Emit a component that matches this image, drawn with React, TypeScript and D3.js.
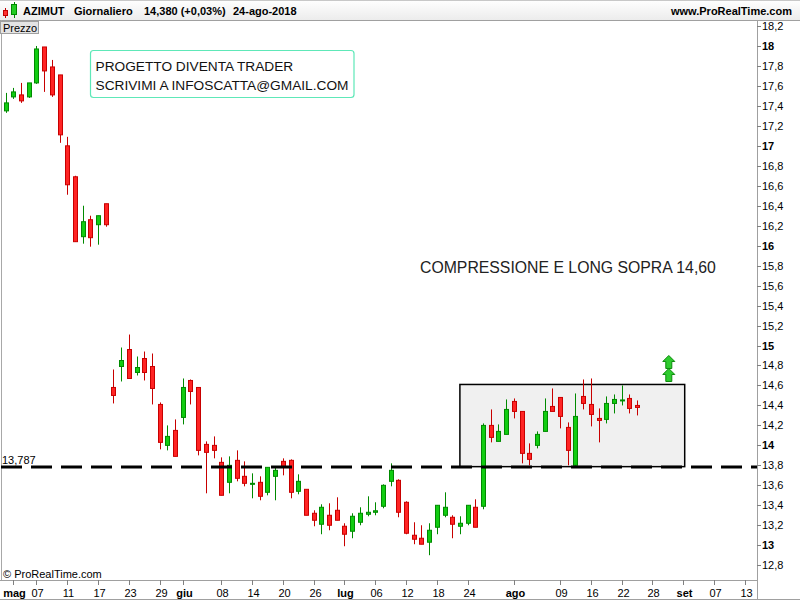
import React from "react";
import * as d3 from "d3";

// ---------- data ----------
const TITLE = "AZIMUT";
const PERIOD = "Giornaliero";
const LAST = "14,380 (+0,03%)";
const LAST_DATE = "24-ago-2018";
const HOLIDAYS = ["2018-05-01", "2018-08-15"];
const FIRST_DAY = "2018-04-30";
const AXIS_END = "2018-09-15";

const OPEN = [17.35, 17.49, 17.51, 17.49, 17.63, 17.99, 17.79, 17.71, 17.0, 16.69, 16.09, 16.26, 16.21, 16.42,
  14.58, 14.79, 14.96, 14.73, 14.87, 14.79, 14.41, 14.0, 14.15, 14.28, 14.65, 14.58, 14.01, 14.0, 13.83, 13.63,
  13.85, 13.69, 13.61, 13.63, 13.53, 13.69, 13.84, 13.85, 13.54, 13.56, 13.32, 13.21, 13.3, 13.35, 13.19, 13.14,
  13.23, 13.31, 13.33, 13.39, 13.64, 13.65, 13.43, 13.1, 13.07, 13.03, 13.18, 13.3, 13.28, 13.19, 13.22, 13.38,
  13.39, 14.2, 14.04, 14.11, 14.44, 14.34, 13.92, 14.0, 14.14, 14.39, 14.48, 14.18, 13.8, 14.49, 14.41, 14.27,
  14.26, 14.42, 14.445, 14.47, 14.4];
const HIGH = [17.53, 17.58, 17.63, 17.63, 18.0, 17.99, 17.86, 17.71, 17.09, 16.7, 16.4, 16.3, 16.3, 16.42,
  14.76, 14.98, 15.11, 14.89, 14.94, 14.92, 14.43, 14.2, 14.26, 14.67, 14.66, 14.58, 14.04, 14.09, 13.88, 13.89,
  13.95, 13.84, 13.72, 13.69, 13.78, 13.79, 13.87, 13.86, 13.71, 13.56, 13.35, 13.41, 13.42, 13.48, 13.22, 13.32,
  13.38, 13.49, 13.43, 13.61, 13.82, 13.66, 13.44, 13.23, 13.2, 13.22, 13.4, 13.53, 13.3, 13.29, 13.4, 13.46,
  14.22, 14.36, 14.21, 14.46, 14.47, 14.34, 14.02, 14.14, 14.47, 14.57, 14.48, 14.23, 14.52, 14.66, 14.67, 14.37,
  14.49, 14.51, 14.6, 14.51, 14.45];
const LOW = [17.33, 17.47, 17.43, 17.48, 17.62, 17.54, 17.49, 17.03, 16.51, 16.04, 16.02, 15.99, 16.01, 16.19,
  14.42, 14.64, 14.67, 14.7, 14.65, 14.41, 13.96, 13.95, 13.89, 14.21, 14.41, 13.9, 13.52, 13.87, 13.5, 13.52,
  13.64, 13.59, 13.47, 13.45, 13.5, 13.45, 13.7, 13.47, 13.51, 13.3, 13.19, 13.11, 13.15, 13.25, 12.99, 13.07,
  13.2, 13.29, 13.3, 13.37, 13.59, 13.28, 13.11, 13.01, 13.01, 12.9, 13.11, 13.28, 13.07, 13.11, 13.2, 13.18,
  13.36, 14.03, 14.04, 14.11, 14.27, 13.82, 13.8, 13.97, 14.14, 14.34, 14.17, 13.8, 13.78, 14.36, 14.19, 14.03,
  14.22, 14.32, 14.4, 14.32, 14.3];
const CLOSE = [17.43, 17.54, 17.45, 17.63, 17.97, 17.75, 17.51, 17.11, 16.61, 16.04, 16.24, 16.08, 16.3, 16.21,
  14.5, 14.85, 14.67, 14.78, 14.73, 14.57, 14.03, 14.09, 13.89, 14.58, 14.54, 13.95, 13.93, 13.95, 13.5, 13.8,
  13.67, 13.62, 13.62, 13.49, 13.78, 13.75, 13.79, 13.53, 13.64, 13.3, 13.25, 13.38, 13.2, 13.25, 13.11, 13.29,
  13.32, 13.33, 13.345, 13.6, 13.75, 13.33, 13.12, 13.06, 13.01, 13.15, 13.4, 13.38, 13.21, 13.22, 13.4, 13.18,
  14.2, 14.08, 14.14, 14.36, 14.34, 13.92, 13.86, 14.11, 14.34, 14.34, 14.29, 13.95, 14.29, 14.42, 14.31, 14.25,
  14.42, 14.46, 14.455, 14.37, 14.38];

const X_TICKS = [
  { date: "2018-05-02", label: "mag", bold: true },
  { date: "2018-05-07", label: "07", bold: false },
  { date: "2018-05-11", label: "11", bold: false },
  { date: "2018-05-17", label: "17", bold: false },
  { date: "2018-05-23", label: "23", bold: false },
  { date: "2018-05-29", label: "29", bold: false },
  { date: "2018-06-01", label: "giu", bold: true },
  { date: "2018-06-08", label: "08", bold: false },
  { date: "2018-06-14", label: "14", bold: false },
  { date: "2018-06-20", label: "20", bold: false },
  { date: "2018-06-26", label: "26", bold: false },
  { date: "2018-07-02", label: "lug", bold: true },
  { date: "2018-07-06", label: "06", bold: false },
  { date: "2018-07-12", label: "12", bold: false },
  { date: "2018-07-18", label: "18", bold: false },
  { date: "2018-07-24", label: "24", bold: false },
  { date: "2018-08-01", label: "ago", bold: true },
  { date: "2018-08-09", label: "09", bold: false },
  { date: "2018-08-16", label: "16", bold: false },
  { date: "2018-08-22", label: "22", bold: false },
  { date: "2018-08-28", label: "28", bold: false },
  { date: "2018-09-03", label: "set", bold: true },
  { date: "2018-09-07", label: "07", bold: false },
  { date: "2018-09-13", label: "13", bold: false },
];

const SUPPORT_LEVEL = 13.787;
const SUPPORT_LABEL = "13,787";
const BOX_DATES = ["2018-07-23", "2018-09-03"];
const BOX_PRICES = [13.787, 14.61];
const ARROW_DATE = "2018-08-30";
const ARROW_PRICE = 14.635;
const NOTE_LINES = ["PROGETTO DIVENTA TRADER", "SCRIVIMI A INFOSCATTA@GMAIL.COM"];
const COMMENT = "COMPRESSIONE E LONG SOPRA 14,60";

// ---------- layout ----------
const W = 800;
const H = 600;
const PLOT_L = 1;
const PLOT_R = 757;
const PLOT_T = 20;
const PLOT_B = 580;
const FONT = "'Liberation Sans', Arial, sans-serif";

const parse = d3.timeParse("%Y-%m-%d");
const fmt = d3.timeFormat("%Y-%m-%d");
const DAYS: string[] = d3.timeDay
  .range(parse(FIRST_DAY)!, parse(AXIS_END)!)
  .filter((d) => d.getDay() !== 0 && d.getDay() !== 6)
  .map((d) => fmt(d))
  .filter((s) => !HOLIDAYS.includes(s));

const STEP = 7.7;
const x = d3.scalePoint<string>().domain(DAYS).range([5.6, 5.6 + STEP * (DAYS.length - 1)]);
const y = d3.scaleLinear().domain([12.8, 18.2]).range([565.2, 26.0]);
const yTicks = d3.range(128, 183, 2).map((v) => v / 10);
const fmtY = (v: number) => (Math.abs(v - Math.round(v)) < 1e-6 ? String(Math.round(v)) : v.toFixed(1).replace(".", ","));

const candles = OPEN.map((o, i) => ({ date: DAYS[i], o, h: HIGH[i], l: LOW[i], c: CLOSE[i] }));

function Arrow({ cx, top }: { cx: number; top: number }) {
  const p = [
    [cx, top],
    [cx + 6, top + 6],
    [cx + 3, top + 6],
    [cx + 3, top + 13],
    [cx - 3, top + 13],
    [cx - 3, top + 6],
    [cx - 6, top + 6],
  ];
  return <path d={d3.line()(p as [number, number][])! + "Z"} fill="#2ecc2e" stroke="#0b8a0b" strokeWidth={1} />;
}

export default function App() {
  const supY = Math.round(y(SUPPORT_LEVEL));
  const bx0 = x(BOX_DATES[0])!;
  const bx1 = x(BOX_DATES[1])! + 1.5;
  const by0 = y(BOX_PRICES[1]);
  const by1 = y(BOX_PRICES[0]);
  const ax = x(ARROW_DATE)! + 1;
  const ay = y(ARROW_PRICE);
  return (
    <svg width={W} height={H} style={{ position: "absolute", left: 0, top: 0, display: "block", background: "#fff" }} fontFamily={FONT}>
      <defs>
        <linearGradient id="hdr" x1="0" y1="0" x2="0" y2="1">
          <stop offset="0" stopColor="#ffffff" />
          <stop offset="1" stopColor="#ececec" />
        </linearGradient>
        <clipPath id="plot">
          <rect x={PLOT_L} y={PLOT_T} width={PLOT_R - PLOT_L} height={PLOT_B - PLOT_T} />
        </clipPath>
      </defs>

      {/* header */}
      <rect x={0} y={0} width={W} height={20} fill="url(#hdr)" />
      <line x1={0} x2={W} y1={20.5} y2={20.5} stroke="#a0a0a0" />
      <line x1={0} x2={W} y1={0.5} y2={0.5} stroke="#c8c8c8" />
      {/* icon */}
      <line x1={5.5} x2={5.5} y1={8} y2={18} stroke="#c00000" />
      <rect x={3.5} y={10.5} width={4} height={5} fill="#ff3030" stroke="#c00000" />
      <line x1={14.5} x2={14.5} y1={2} y2={18} stroke="#008800" />
      <rect x={11.5} y={4.5} width={5} height={10} fill="#22cc22" stroke="#008800" />
      <g fontSize={11} fontWeight="bold" fill="#000">
        <text x={23} y={15}>{TITLE}</text>
        <text x={74} y={15}>{PERIOD}</text>
        <text x={144} y={15}>{LAST}</text>
        <text x={233} y={15}>{LAST_DATE}</text>
        <text x={792} y={15} textAnchor="end">www.ProRealTime.com</text>
      </g>

      {/* frame */}
      <line x1={1.5} x2={1.5} y1={20} y2={PLOT_B} stroke="#a8a8a8" />
      <line x1={PLOT_R + 0.5} x2={PLOT_R + 0.5} y1={20} y2={599} stroke="#a0a0a0" />
      <line x1={0} x2={PLOT_R} y1={PLOT_B + 0.5} y2={PLOT_B + 0.5} stroke="#a0a0a0" />
      <line x1={0} x2={W} y1={599.5} y2={599.5} stroke="#a0a0a0" />

      {/* Prezzo label */}
      <rect x={0.5} y={21.5} width={38} height={12} fill="#e4e4e4" stroke="#a0a0a0" />
      <text x={3} y={31.5} fontSize={11} fill="#000">Prezzo</text>

      <g clipPath="url(#plot)">
        {/* box */}
        <rect x={bx0} y={by0} width={bx1 - bx0} height={by1 - by0} fill="#f0f0f0" stroke="#000" strokeWidth={1.5} />
        {/* candles */}
        {candles.map((d) => {
          const cx = Math.round(x(d.date)!) + 0.5;
          const up = d.c >= d.o;
          const stroke = up ? "#008a00" : "#c80000";
          const fill = up ? "#11cc11" : "#ff2424";
          const top = y(Math.max(d.o, d.c));
          const bot = y(Math.min(d.o, d.c));
          return (
            <g key={d.date}>
              <line x1={cx} x2={cx} y1={y(d.h)} y2={y(d.l)} stroke={stroke} strokeWidth={1} />
              <rect x={cx - 2} y={top} width={4} height={Math.max(bot - top, 1)} fill={fill} stroke={stroke} strokeWidth={1} />
            </g>
          );
        })}
        {/* support line */}
        <line x1={PLOT_L} x2={PLOT_R} y1={supY} y2={supY} stroke="#000" strokeWidth={3} strokeDasharray="21,9" />
        {/* arrows */}
        <Arrow cx={ax} top={ay - 26.5} />
        <Arrow cx={ax} top={ay - 13.5} />
      </g>
      <text x={2} y={supY - 3} fontSize={11} fill="#000">{SUPPORT_LABEL}</text>

      {/* notes */}
      <rect x={90.5} y={50.5} width={263.5} height={47} rx={3} fill="#fff" stroke="#5ee8b8" strokeWidth={1.2} />
      <g fontSize={13.7} fill="#111">
        {NOTE_LINES.map((t, i) => (
          <text key={i} x={95.5} y={70.5 + i * 19}>{t}</text>
        ))}
      </g>
      <text x={420} y={273} fontSize={15.8} fill="#222">{COMMENT}</text>

      {/* y axis */}
      <g fontSize={11} fill="#000">
        {yTicks.map((v) => {
          const ty = Math.round(y(v)) + 0.5;
          const isInt = Math.abs(v - Math.round(v)) < 1e-6;
          return (
            <g key={v}>
              <line x1={PLOT_R} x2={PLOT_R + 4} y1={ty} y2={ty} stroke="#808080" />
              <text x={PLOT_R + 5} y={ty} dy="0.35em" fontWeight={isInt ? "bold" : "normal"}>{fmtY(v)}</text>
            </g>
          );
        })}
      </g>

      {/* x axis */}
      <g fontSize={11} fill="#000">
        {X_TICKS.map((t) => {
          const tx = Math.round(x(t.date)!) + 0.5;
          return (
            <g key={t.date}>
              <line x1={tx} x2={tx} y1={PLOT_B} y2={PLOT_B + 5} stroke="#808080" />
              <text x={tx + 1} y={597} textAnchor="middle" fontWeight={t.bold ? "bold" : "normal"}>{t.label}</text>
            </g>
          );
        })}
      </g>
      <text x={3} y={578} fontSize={11} fill="#000">© ProRealTime.com</text>
    </svg>
  );
}
